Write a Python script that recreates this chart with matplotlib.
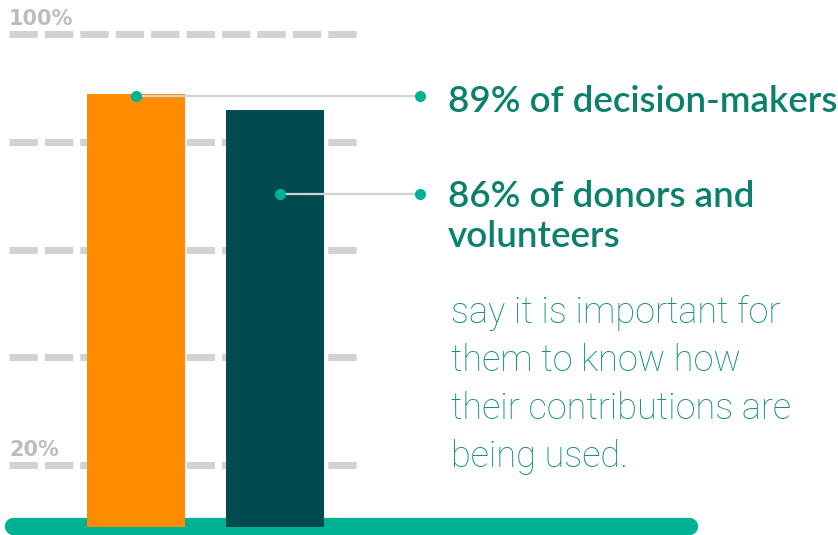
import matplotlib.pyplot as plt
import numpy as np

# data
groups = ["Decision-makers", "Donors and volunteers"]
values = [89, 86]
bar_colors = ["#FF8C00", "#004B50"]
headlines = ["89% of decision-makers", "86% of donors and\nvolunteers"]
body = "say it is important for\nthem to know how\ntheir contributions are\nbeing used."
grid_levels = [20, 40, 60, 80, 100]
grid_labels = ["20%", "", "", "", "100%"]

W, H = 838, 535
fig = plt.figure(figsize=(W / 100, H / 100), dpi=100)
ax = fig.add_axes([0, 0, 1, 1])
ax.set_xlim(-0.978, 5.05)
ax.set_ylim(7.0, 106.4)
ax.axis("off")

green = "#00B294"
text_green = "#0b806b"
grey = "#d2d2d2"

# dashed guide lines
for lvl, lab in zip(grid_levels, grid_labels):
    ax.plot([-0.914, 1.59], [lvl, lvl], color=grey, lw=5.1, dashes=(4, 1),
            dash_capstyle="butt", zorder=1)
    if lab:
        ax.annotate(lab, (-0.914, lvl), xytext=(0, 6.5), textcoords="offset points",
                    va="baseline", ha="left", fontsize=15, fontweight="bold",
                    color="#bdbdbd", family="DejaVu Sans")

# bars
x = np.arange(len(values))
base = 8.5
ax.bar(x, np.array(values) - base, bottom=base, width=0.705,
       color=bar_colors, zorder=3)

# green baseline
ax.plot([-0.885, 3.978], [8.75, 8.75], color=green, lw=12.5,
        solid_capstyle="round", zorder=2)

# leaders with dots
dot_x = [0.0, 1.036]
dot_y = [88.6, 70.4]
end_x = 2.043
for dx, dy in zip(dot_x, dot_y):
    ax.plot([dx, end_x], [dy, dy], color=grey, lw=1.6, zorder=4)
    ax.plot([dx, end_x], [dy, dy], "o", color=green, ms=8, mec="none", zorder=5)


def px(xp, yp):
    return xp / W, 1 - yp / H


# headline texts
head_base = [[112], [207, 247]]
for txt, bases in zip(headlines, head_base):
    for line, yb in zip(txt.split("\n"), bases):
        fig.text(*px(448, yb), line, ha="left", va="baseline", fontsize=26.5,
                 fontweight="semibold", color=text_green, family=["Lato", "DejaVu Sans"])

# body text
for i, line in enumerate(body.split("\n")):
    fig.text(*px(451, 323 + i * 48), line, ha="left", va="baseline", fontsize=26,
             fontweight="light", color="#12907b", family=["Roboto", "DejaVu Sans"])

fig.savefig("out.png", dpi=100)
